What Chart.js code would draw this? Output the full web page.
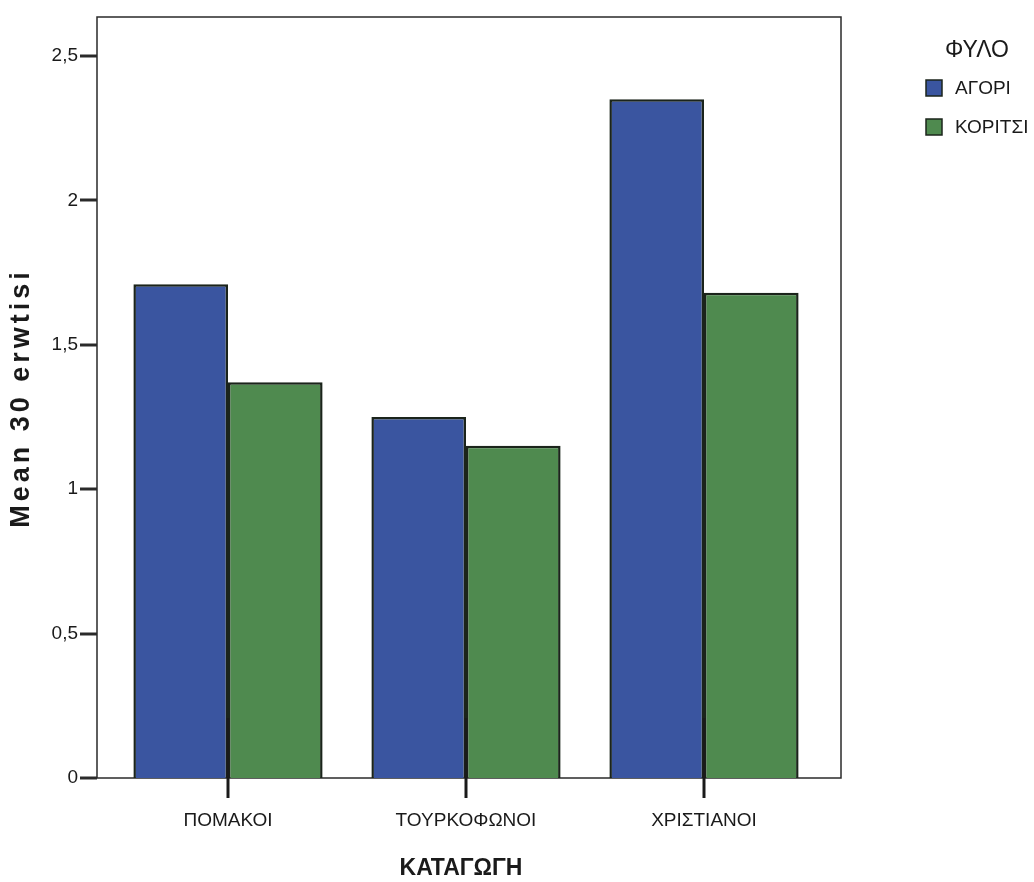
<!DOCTYPE html>
<html>
<head>
<meta charset="utf-8">
<script src="https://cdn.jsdelivr.net/npm/chart.js@4.4.1/dist/chart.umd.min.js"></script>
<style>
  html, body { margin: 0; padding: 0; background: #fff; }
  #chart { display: block; }
</style>
</head>
<body>
<canvas id="chart" width="1034" height="882"></canvas>
<script>
// Mean of question 30 by origin and gender
const categories = ['ΠΟΜΑΚΟΙ', 'ΤΟΥΡΚΟΦΩΝΟΙ', 'ΧΡΙΣΤΙΑΝΟΙ'];
const seriesLabels = ['ΑΓΟΡΙ', 'ΚΟΡΙΤΣΙ'];
const agoriValues = [1.71, 1.25, 2.35];
const koritsiValues = [1.37, 1.15, 1.68];
const yTicks = [0, 0.5, 1, 1.5, 2, 2.5];
const yTickLabels = ['0', '0,5', '1', '1,5', '2', '2,5'];

const BLUE = '#3a55a0';
const GREEN = '#4f8a4f';
const EDGE = '#1b241b';
const INK = '#1a1a1a';
const FONT = '"Liberation Sans", Arial, sans-serif';

// frame, tick marks, axis titles and legend drawn like the SPSS output
const spssDecor = {
    id: 'spssDecor',
    beforeDatasetsDraw(chart) {
        const { ctx, chartArea: a } = chart;
        ctx.save();
        ctx.strokeStyle = '#2a2a2a';
        ctx.lineWidth = 1.5;
        ctx.strokeRect(a.left - 12, a.top, (a.right + 18) - (a.left - 12), a.bottom - a.top);
        // y tick marks
        const y = chart.scales.y;
        ctx.lineWidth = 3;
        yTicks.forEach(v => {
            const py = Math.round(y.getPixelForValue(v));
            ctx.beginPath();
            ctx.moveTo(a.left - 29, py);
            ctx.lineTo(a.left - 12, py);
            ctx.stroke();
        });
        ctx.restore();
    },
    afterDatasetsDraw(chart) {
        const { ctx, chartArea: a } = chart;
        const x = chart.scales.x;
        ctx.save();
        ctx.strokeStyle = '#1a1a1a';
        ctx.lineWidth = 3;
        categories.forEach((c, i) => {
            const px = Math.round(x.getPixelForValue(i));
            ctx.beginPath();
            ctx.moveTo(px, a.bottom - 60);
            ctx.lineTo(px, a.bottom + 20);
            ctx.stroke();
        });

        // axis titles
        ctx.fillStyle = INK;
        ctx.textAlign = 'center';
        ctx.textBaseline = 'middle';
        ctx.font = 'bold 23px ' + FONT;
        ctx.fillText('ΚΑΤΑΓΩΓΗ', 461, 869);

        ctx.save();
        ctx.translate(22, 398);
        ctx.rotate(-Math.PI / 2);
        ctx.font = 'bold 27px ' + FONT;
        ctx.letterSpacing = '4px';
        ctx.fillText('Mean 30 erwtisi', 0, 0);
        ctx.restore();

        // legend
        ctx.font = '23px ' + FONT;
        ctx.fillText('ΦΥΛΟ', 977, 51);
        ctx.textAlign = 'left';
        ctx.font = '19px ' + FONT;
        chart.data.datasets.forEach((ds, i) => {
            const top = 80 + i * 39;
            ctx.fillStyle = ds.backgroundColor;
            ctx.fillRect(926, top, 16, 16);
            ctx.strokeStyle = EDGE;
            ctx.lineWidth = 1.5;
            ctx.strokeRect(926, top, 16, 16);
            ctx.fillStyle = INK;
            ctx.fillText(ds.label, 955, top + 9);
        });
        ctx.restore();
    }
};

new Chart(document.getElementById('chart'), {
    type: 'bar',
    data: {
        labels: categories,
        datasets: [
            {
                label: seriesLabels[0],
                data: agoriValues,
                backgroundColor: BLUE,
                borderColor: EDGE,
                borderWidth: 2.5,
                categoryPercentage: 0.795,
                barPercentage: 1
            },
            {
                label: seriesLabels[1],
                data: koritsiValues,
                backgroundColor: GREEN,
                borderColor: EDGE,
                borderWidth: 2.5,
                categoryPercentage: 0.795,
                barPercentage: 1
            }
        ]
    },
    options: {
        responsive: false,
        animation: false,
        layout: { padding: { top: 17, right: 211, bottom: 0, left: 0 } },
        scales: {
            x: {
                grid: { display: false },
                border: { display: false },
                ticks: {
                    color: INK,
                    padding: 23,
                    font: { family: FONT, size: 19 }
                },
                afterFit: (s) => {
                    s.height = 104;
                    s.paddingLeft = 0;
                    s.paddingRight = 0;
                }
            },
            y: {
                min: 0,
                max: 2.635,
                grid: { display: false },
                border: { display: false },
                afterBuildTicks: (s) => { s.ticks = yTicks.map(v => ({ value: v })); },
                ticks: {
                    color: INK,
                    padding: 23,
                    font: { family: FONT, size: 19 },
                    callback: (v) => yTickLabels[yTicks.indexOf(v)]
                },
                afterFit: (s) => {
                    s.width = 109;
                    s.paddingTop = 0;
                    s.paddingBottom = 0;
                }
            }
        },
        plugins: {
            legend: { display: false },
            tooltip: { enabled: false }
        }
    },
    plugins: [spssDecor]
});
</script>
</body>
</html>
